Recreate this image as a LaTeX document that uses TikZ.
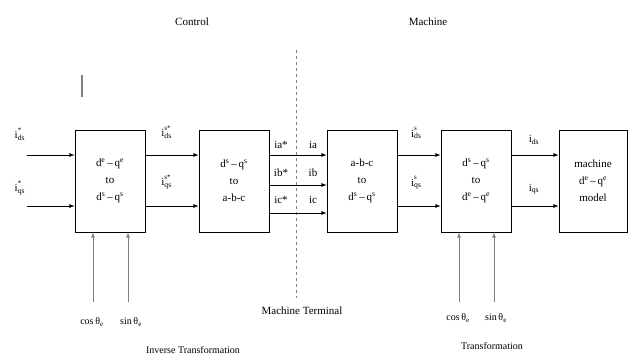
\documentclass[tikz,border=0pt]{standalone}
\usepackage{amsmath, amssymb}
\usepackage{fontspec}
\setmainfont{Liberation Serif}
\usepackage{tikz}
\usetikzlibrary{positioning, calc}
\newcommand{\cur}[2]{i\rlap{\textsubscript{#1}}\raisebox{1.3ex}{\scriptsize #2}}
\newcommand{\dq}[2]{d\textsuperscript{#1}\,--\,q\textsuperscript{#2}}
\newcommand{\ang}[1]{#1\,θ\textsubscript{e}}

\begin{document}
\begin{tikzpicture}[x=1pt, y=-1pt, >=latex, font=\fontsize{10}{12}\selectfont,
    block/.style={draw, line width=0.8pt, minimum width=70pt, minimum height=102pt,
                  align=center, inner sep=0pt, font=\fontsize{11}{17}\selectfont},
    sig/.style={->, line width=0.8pt},
    ctrl/.style={->, line width=0.8pt, gray},
    lbl/.style={font=\fontsize{11}{12}\selectfont, inner sep=1pt}]
            \useasboundingbox (0,0) rectangle (628,359);

            % headings
            \node (control) at (192,22) {\fontsize{11}{12}\selectfont Control};
            \node (machine) at (428,22) {\fontsize{11}{12}\selectfont Machine};
            \draw[gray, line width=1.5pt] (82,75) -- (82,97);

            % blocks
            \node[block] (B1) at (110,181) {\dq{e}{e}\\ to\\ \dq{s}{s}};
            \node[block] (B2) at (234,181) {\dq{s}{s}\\ to\\ a-b-c};
            \node[block] (B3) at (362,181) {a-b-c\\ to\\ \dq{s}{s}};
            \node[block] (B4) at (476,181) {\dq{s}{s}\\ to\\ \dq{e}{e}};
            \node[block, minimum width=68pt] (B5) at (593,181) {machine\\ \dq{e}{e}\\ model};

            % machine terminal
            \coordinate (MTtop) at (296,50);
            \coordinate (MTbot) at (296,298);
            \draw[dashed, gray, line width=0.6pt] (MTtop) -- (MTbot);
            \node (MT) at (302,311) {\fontsize{11}{12}\selectfont Machine Terminal};

            % inputs
            \coordinate (in1) at (27,155);
            \coordinate (in2) at (27,206);
            \node[lbl] (ids) at (18,134) {\cur{ds}{*}};
            \node[lbl] (iqs) at (18,188) {\cur{qs}{*}};
            \draw[sig] (in1) -- (in1 -| B1.west);
            \draw[sig] (in2) -- (in2 -| B1.west);

            \draw[sig] (B1.east |- in1) -- (B2.west |- in1);
            \draw[sig] (B1.east |- in2) -- (B2.west |- in2);
            \node[lbl] (idss) at (166,132) {\cur{ds}{s*}};
            \node[lbl] (iqss) at (166,182) {\cur{qs}{s*}};

            % phase currents
            \coordinate (pa) at (0,155);
            \coordinate (pb) at (0,185);
            \coordinate (pc) at (0,213);
            \draw[sig] (B2.east |- pa) -- (B3.west |- pa);
            \draw[sig] (B2.east |- pb) -- (B3.west |- pb);
            \draw[sig] (B2.east |- pc) -- (B3.west |- pc);
            \node[lbl] (iastar) at (281,145) {ia*};
            \node[lbl] (ibstar) at (281,173) {ib*};
            \node[lbl] (icstar) at (281,200) {ic*};
            \node[lbl] (ia) at (313,145) {ia};
            \node[lbl] (ib) at (313,173) {ib};
            \node[lbl] (ic) at (313,200) {ic};

            \draw[sig] (B3.east |- in1) -- (B4.west |- in1);
            \draw[sig] (B3.east |- in2) -- (B4.west |- in2);
            \node[lbl] (ids3) at (414,133) {\cur{ds}{s}};
            \node[lbl] (iqs3) at (414,183) {\cur{qs}{s}};

            \draw[sig] (B4.east |- in1) -- (B5.west |- in1);
            \draw[sig] (B4.east |- in2) -- (B5.west |- in2);
            \node[lbl] (ids4) at (534,140) {i\textsubscript{ds}};
            \node[lbl] (iqs4) at (534,189) {i\textsubscript{qs}};

            % angle inputs
            \coordinate (c1) at (93,302);
            \coordinate (s1) at (128,302);
            \coordinate (c4) at (459,302);
            \coordinate (s4) at (494,302);
            \draw[ctrl] (c1) -- (c1 |- B1.south);
            \draw[ctrl] (s1) -- (s1 |- B1.south);
            \draw[ctrl] (c4) -- (c4 |- B4.south);
            \draw[ctrl] (s4) -- (s4 |- B4.south);
            \node (cos1) at (92,322) {\ang{cos}};
            \node (sin1) at (131,322) {\ang{sin}};
            \node (cos4) at (458,318) {\ang{cos}};
            \node (sin4) at (496,318) {\ang{sin}};
            \node (inv) at (193,350) {Inverse Transformation};
            \node (tr) at (492,346) {Transformation};
        \end{tikzpicture}
\end{document}
